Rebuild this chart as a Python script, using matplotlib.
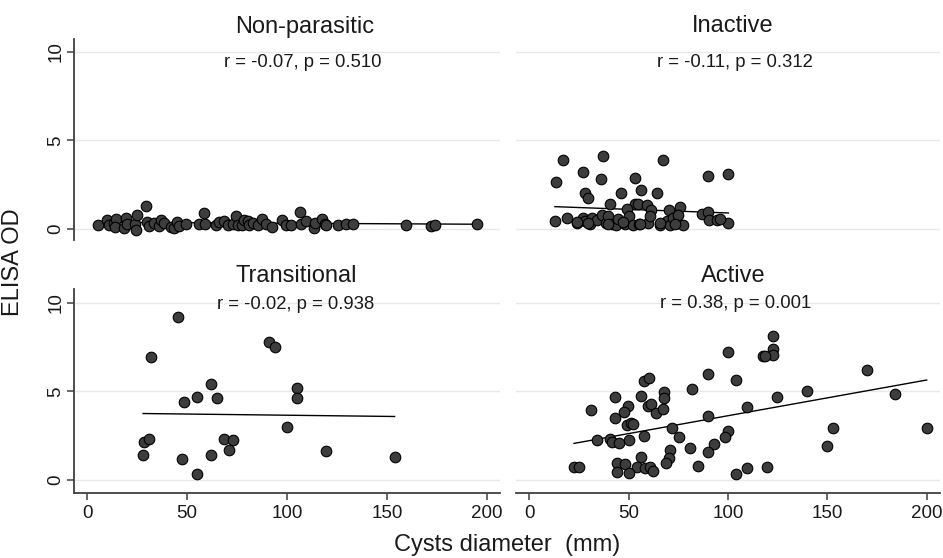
import matplotlib
matplotlib.use("Agg")
import matplotlib.pyplot as plt
import numpy as np

plt.rcParams['font.family'] = ['Liberation Sans', 'DejaVu Sans']

# Non-parasitic
np_x = [5.5, 10.0, 10.9, 13.4, 14.2, 13.9, 18.4, 19.2, 20.1, 23.9, 24.3, 24.8, 29.3, 30.1, 31.0,
        33.5, 36.0, 36.8, 38.5, 41.8, 43.5, 44.7, 46.0, 49.4, 56.1, 58.6, 59.1, 64.4, 66.1, 68.6,
        70.3, 72.8, 74.5, 75.3, 77.5, 78.6, 80.3, 80.8, 82.8, 85.3, 87.5, 89.5, 92.5, 97.6, 99.6,
        102.1, 106.6, 107.1, 109.6, 113.3, 113.8, 117.6, 118.8, 119.6, 125.5, 129.7, 133.0, 159.8,
        172.3, 174.0, 195.0]
np_y = [0.23, 0.51, 0.23, 0.36, 0.55, 0.13, 0.04, 0.60, 0.28, 0.28, -0.06, 0.79, 1.32, 0.41, 0.17,
        0.32, 0.17, 0.51, 0.36, 0.13, 0.08, 0.38, 0.17, 0.28, 0.26, 0.92, 0.28, 0.23, 0.41, 0.47,
        0.23, 0.26, 0.73, 0.23, 0.21, 0.51, 0.45, 0.23, 0.32, 0.23, 0.56, 0.28, 0.09, 0.51, 0.23,
        0.23, 0.94, 0.26, 0.45, 0.04, 0.36, 0.56, 0.26, 0.23, 0.23, 0.26, 0.28, 0.23, 0.17, 0.23, 0.26]

# Inactive
in_x = [17.1, 36.9, 67.4, 13.4, 27.2, 36.1, 53.0, 90.1, 100.2, 28.0, 29.7, 46.1, 56.4, 64.1, 40.6,
        53.2, 54.9, 59.1, 49.0, 61.2, 70.1, 75.8, 86.7, 90.1, 12.9, 18.8, 23.8, 26.8, 28.0, 30.5,
        31.4, 33.9, 36.4, 38.6, 39.8, 41.4, 43.6, 44.8, 48.2, 50.3, 52.3, 55.4, 59.9, 60.7, 65.8,
        69.1, 70.8, 72.5, 74.2, 77.5, 75.0, 90.6, 94.3, 100.2,
        23.8, 29.7, 39.8, 47.3, 55.7, 65.8, 73.3, 96.0]
in_y = [3.89, 4.12, 3.89, 2.63, 3.20, 2.80, 2.89, 3.01, 3.10, 2.05, 1.73, 2.01, 2.20, 2.01, 1.39,
        1.41, 1.39, 1.35, 1.11, 1.07, 1.07, 1.22, 0.85, 0.94, 0.45, 0.60, 0.36, 0.60, 0.47, 0.28,
        0.60, 0.51, 0.79, 0.36, 0.73, 0.28, 0.23, 0.56, 0.28, 0.73, 0.23, 0.28, 0.36, 0.73, 0.23,
        0.47, 0.23, 0.60, 0.36, 0.23, 0.79, 0.51, 0.51, 0.32,
        0.40, 0.35, 0.30, 0.38, 0.30, 0.35, 0.30, 0.55]

# Transitional
tr_x = [45.5, 32.0, 90.9, 93.9, 61.7, 104.8, 104.8, 54.9, 65.1, 48.5, 100.1, 28.6, 30.8, 68.6,
        73.0, 71.0, 27.9, 47.2, 62.1, 119.6, 153.9, 54.9]
tr_y = [9.21, 6.92, 7.80, 7.48, 5.41, 5.21, 4.61, 4.66, 4.61, 4.40, 3.01, 2.14, 2.29, 2.29,
        2.26, 1.67, 1.41, 1.17, 1.41, 1.64, 1.32, 0.36]

# Active
ac_x = [122.8, 122.8, 122.8, 117.4, 118.8, 100.2, 169.8, 90.1, 57.7, 60.1, 104.0, 82.0, 139.6,
        183.9, 67.8, 67.8, 43.1, 56.2, 124.7, 30.9, 49.8, 47.7, 59.9, 61.2, 63.8, 67.1, 109.7,
        43.1, 90.1, 49.0, 51.2, 52.0, 71.8, 100.2, 98.7, 75.2, 153.0, 200.0, 33.9, 40.6, 41.8,
        50.2, 57.7, 45.0, 93.1, 150.0, 80.7, 70.9, 90.1, 56.4, 70.3, 68.8, 22.5, 25.2, 44.3, 48.2,
        54.0, 58.1, 60.7, 62.1, 44.0, 50.2, 84.9, 104.0, 109.7, 119.8]
ac_y = [8.12, 7.41, 7.03, 6.99, 6.99, 7.24, 6.20, 5.96, 5.60, 5.73, 5.64, 5.11, 5.04,
        4.85, 4.98, 4.64, 4.70, 4.74, 4.70, 3.95, 4.19, 3.82, 4.19, 4.29, 3.80, 3.98, 4.14,
        3.52, 3.63, 3.10, 3.20, 3.14, 2.93, 2.78, 2.41, 2.41, 2.93, 2.93, 2.26, 2.31, 2.14,
        2.26, 2.48, 2.07, 2.05, 1.92, 1.79, 1.69, 1.60, 1.32, 1.22, 0.98, 0.73, 0.73, 0.94, 0.92,
        0.75, 0.66, 0.71, 0.53, 0.47, 0.38, 0.79, 0.36, 0.66, 0.71]

titles = ["Non-parasitic", "Inactive", "Transitional", "Active"]
stats = ["r = -0.07, p = 0.510", "r = -0.11, p = 0.312",
         "r = -0.02, p = 0.938", "r = 0.38, p = 0.001"]
xs_all = [np_x, in_x, tr_x, ac_x]
ys_all = [np_y, in_y, tr_y, ac_y]

W, H = 943, 558
fig = plt.figure(figsize=(W / 100, H / 100), dpi=100)

# left, top, right, bottom in pixels
boxes = [(74, 39, 500, 240), (516, 39, 940, 240), (74, 289, 500, 493), (516, 289, 940, 493)]
ylims = [(-0.62, 10.72), (-0.62, 10.72), (-0.73, 10.77), (-0.73, 10.77)]
title_x = [0.541, 0.512, 0.522, 0.512]
stat_y = [9.42, 9.42, 9.9, 9.95]
stat_x = [0.536, 0.517, 0.521, 0.517]

for i in range(4):
    l, t, r, b = boxes[i]
    ax = fig.add_axes([l / W, 1 - b / H, (r - l) / W, (b - t) / H])
    ax.set_xlim(-6.7, 206.7)
    ax.set_ylim(*ylims[i])
    for yv in [0, 5, 10]:
        ax.axhline(yv, color='#e9e9e9', lw=1, zorder=0)
    x = np.array(xs_all[i])
    y = np.array(ys_all[i])
    fit = np.polyfit(x, y, 1)
    lx = np.array([x.min(), x.max()])
    ax.plot(lx, np.polyval(fit, lx), color='black', lw=1, zorder=2)
    ax.scatter(x, y, s=58, facecolor='#3d3d3d', edgecolor='black', linewidths=0.8, zorder=3)
    ax.text(title_x[i], 1 + 6.5 / (b - t), titles[i], transform=ax.transAxes, ha='center',
            va='baseline', fontsize=17, color='#1a1a1a')
    ax.text(stat_x[i], stat_y[i], stats[i], transform=ax.get_yaxis_transform(), ha='center',
            va='center', fontsize=13.3, color='#1a1a1a')
    for s in ['top', 'right']:
        ax.spines[s].set_visible(False)
    ax.spines['left'].set_color('#404040')
    ax.spines['bottom'].set_color('#404040')
    ax.spines['left'].set_linewidth(1.3)
    ax.spines['bottom'].set_linewidth(1.3)
    ax.set_yticks([0, 5, 10])
    ax.set_xticks([0, 50, 100, 150, 200])
    ax.tick_params(axis='both', length=5, width=1.1, color='#404040', labelsize=13.5,
                   labelcolor='#1a1a1a', pad=4)
    if i % 2 == 1:
        ax.spines['left'].set_visible(False)
        ax.tick_params(axis='y', left=False, labelleft=False)
    else:
        ax.tick_params(axis='y', pad=2)
        plt.setp(ax.get_yticklabels(), rotation=90, va='center')
    if i < 2:
        ax.spines['bottom'].set_visible(False)
        ax.tick_params(axis='x', bottom=False, labelbottom=False)
    ax.set_facecolor('white')

fig.text(0.538, 0.023, "Cysts diameter  (mm)", ha='center', va='center', fontsize=17,
         color='#1a1a1a')
fig.text(0.014, 0.53, "ELISA OD", ha='center', va='center', rotation=90, fontsize=17,
         color='#1a1a1a')

fig.savefig("out.png", dpi=100, facecolor='white')
